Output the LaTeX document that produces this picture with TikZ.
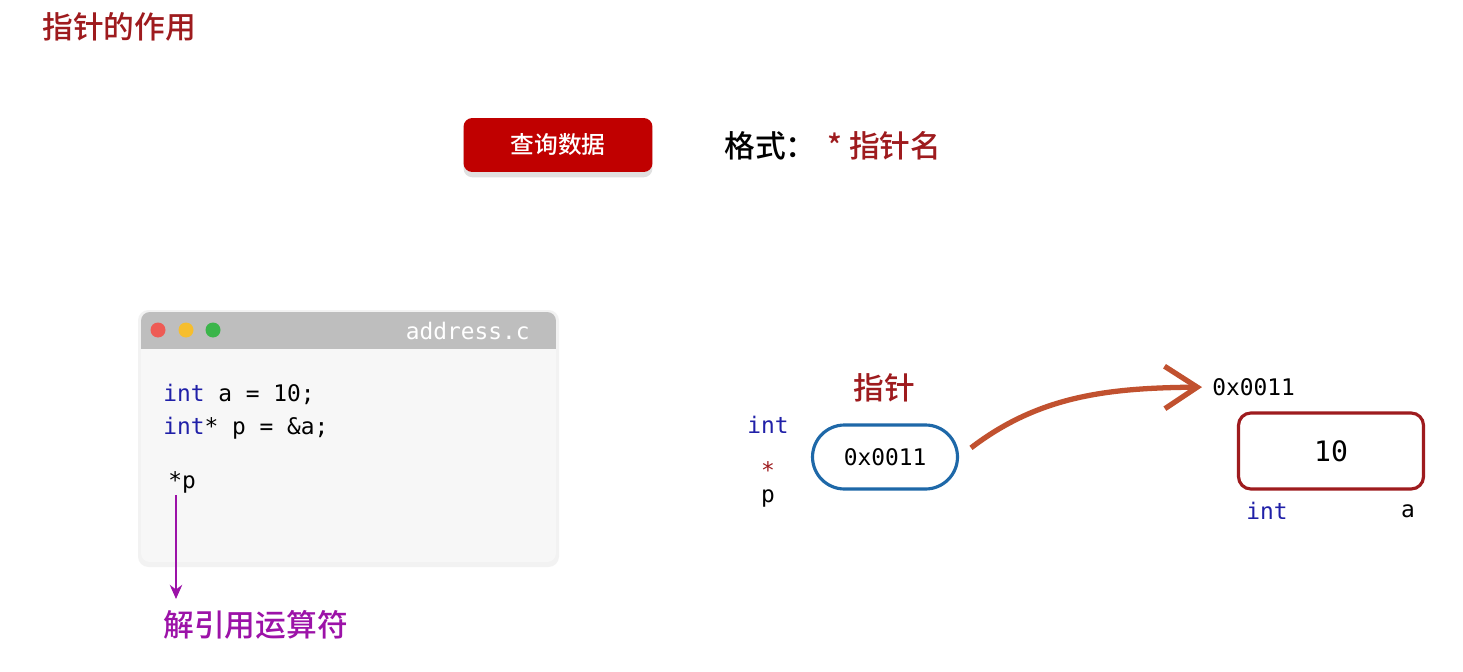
\documentclass[tikz,border=0pt]{standalone}
\usepackage{fontspec}
\setmainfont{Noto Sans CJK SC}[BoldFont={Noto Sans CJK SC Medium}]
\setmonofont{DejaVu Sans Mono}
\usetikzlibrary{arrows.meta, positioning, shapes.misc, shadows}

\definecolor{titlered}{HTML}{9E1B1E}
\definecolor{btnred}{HTML}{C00000}
\definecolor{kwblue}{HTML}{2020A8}
\definecolor{ptrblue}{HTML}{1E68A8}
\definecolor{derefpurple}{HTML}{9C12A8}
\definecolor{arrowbrown}{HTML}{C1512F}
\definecolor{barbg}{HTML}{BEBEBE}
\definecolor{winbg}{HTML}{F7F7F7}
\definecolor{dotred}{HTML}{EE5B55}
\definecolor{dotyellow}{HTML}{F6BE2E}
\definecolor{dotgreen}{HTML}{3BB54A}

\begin{document}
\begin{tikzpicture}[x=0.02cm, y=-0.02cm, node distance=2mm,
  heading/.style={font=\fontsize{17.5}{20}\selectfont\bfseries, text=titlered, inner sep=0pt},
  code/.style={font=\fontsize{13}{15}\selectfont\ttfamily, inner sep=0pt},
  btn/.style={fill=btnred, rounded corners=5pt, minimum width=3.78cm, minimum height=1.08cm,
    text=white, font=\fontsize{13.5}{16}\selectfont\bfseries,
    drop shadow={shadow xshift=0pt, shadow yshift=-3pt, fill=black!12, opacity=1}},
  ptrcell/.style={draw=ptrblue, line width=1.8pt, rounded rectangle, minimum width=2.9cm, minimum height=1.28cm, code},
  valcell/.style={draw=titlered, line width=1.8pt, rounded corners=7pt, minimum width=3.7cm, minimum height=1.52cm,
    font=\fontsize{16}{18}\selectfont\ttfamily}]
\useasboundingbox[fill=white] (0,0) rectangle (1463,672);

% Title and query format
\node[heading, anchor=west] (title) at (42,27) {指针的作用};
\node[btn] (query) at (558,145) {查询数据};
\node[heading, text=black, anchor=west] (fmt) at (724,146) {格式：};
\node[heading, right=0.2cm of fmt] (fmtName) {* 指针名};

% Source window
\fill[black!5, rounded corners=6pt] (138,310) rectangle (559,567);
\begin{scope}
  \clip[rounded corners=5pt] (141,312) rectangle (556,562);
  \fill[winbg] (141,312) rectangle (556,562);
  \fill[barbg] (141,312) rectangle (556,349);
\end{scope}
\foreach \x/\c in {158/dotred, 186/dotyellow, 213/dotgreen}
  \fill[\c] (\x,330) circle (7.5);
\node[code, text=white, anchor=east] (fname) at (530,331) {address.c};
\node[code, anchor=west] (line1) at (163,394) {\textcolor{kwblue}{int} a = 10;};
\node[code, anchor=west] (line2) at (163,428) {\textcolor{kwblue}{int}* p = \&a;};
\node[code, anchor=west] (starp) at (168,482) {*p};

% Dereference operator
\node[heading, text=derefpurple, anchor=west] (derefLabel) at (163,625) {解引用运算符};
\coordinate (derefTop) at (176,495);
\draw[derefpurple, line width=1.6pt, -{Stealth[length=8pt, width=7pt]}] (derefTop) -- (derefTop |- 0,599);

% Pointer variable p
\node[heading] (ptrTitle) at (884,388) {指针};
\node[code, text=kwblue] (ptrType) at (768,425) {int};
\node[code, text=titlered] (ptrStar) at (768,470) {*};
\node[code] (ptrName) at (768,498) {p};
\node[ptrcell] (ptr) at (885,457) {0x0011};

% Variable a
\node[code, anchor=west] (addr) at (1212,387) {0x0011};
\node[valcell] (val) at (1331,451) {10};
\node[code, text=kwblue] (valType) at (1267,511) {int};
\node[code] (valName) at (1408,511) {a};

% Pointer points to a
\draw[arrowbrown, line width=3pt, -{Straight Barb[length=6.5mm, width=8.5mm]}, shorten <=0.3cm, shorten >=0.2cm]
  (ptr.east) .. controls (1040,395) and (1110,388) .. (addr.west);
\end{tikzpicture}
\end{document}
